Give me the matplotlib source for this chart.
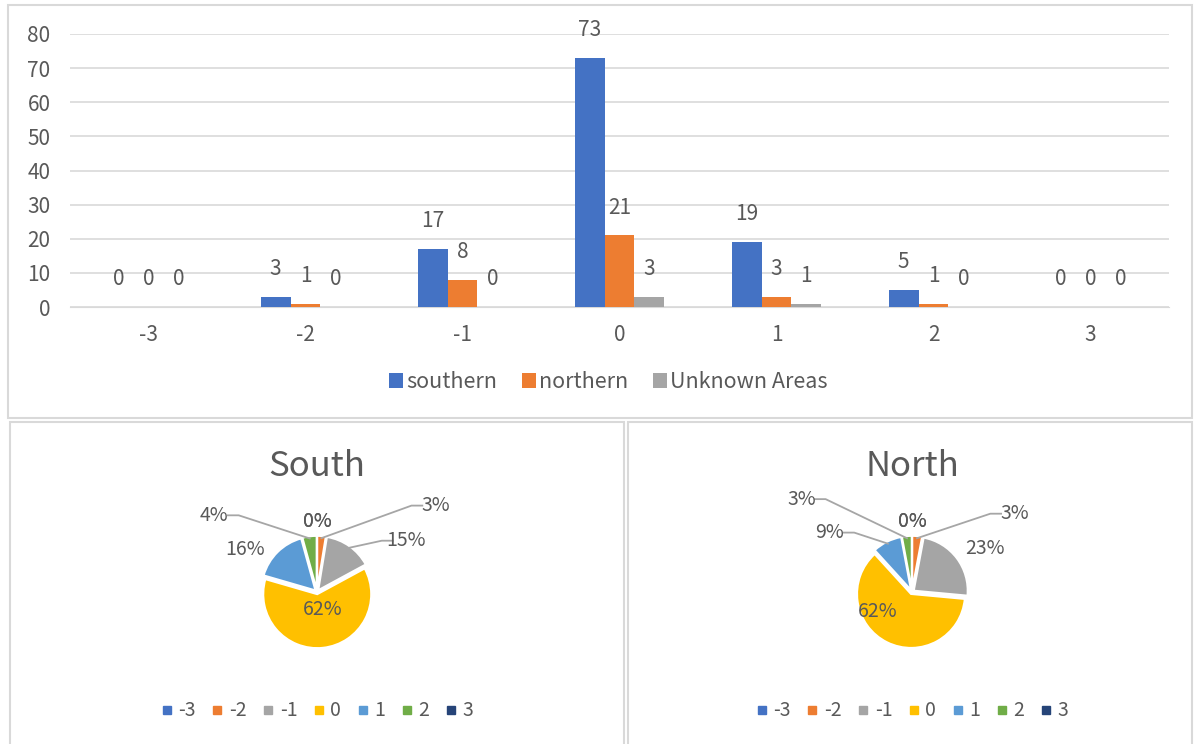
import numpy as np
import matplotlib.pyplot as plt
from matplotlib.patches import Rectangle
from matplotlib.lines import Line2D

plt.rcParams['font.family'] = ['Noto Sans CJK SC', 'DejaVu Sans']

# data
categories = ["-3", "-2", "-1", "0", "1", "2", "3"]
southern = [0, 3, 17, 73, 19, 5, 0]
northern = [0, 1, 8, 21, 3, 1, 0]
unknown = [0, 0, 0, 3, 1, 0, 0]
series_names = ["southern", "northern", "Unknown Areas"]
south_pct = ["0%", "3%", "15%", "62%", "16%", "4%", "0%"]
north_pct = ["0%", "3%", "23%", "62%", "9%", "3%", "0%"]

bar_colors = ["#4472C4", "#ED7D31", "#A5A5A5"]
pie_colors = ["#4472C4", "#ED7D31", "#A5A5A5", "#FFC000", "#5B9BD5", "#70AD47", "#264478"]
txt = "#595959"
W, H = 1194, 744

fig = plt.figure(figsize=(W / 100, H / 100), dpi=100)

def box(x0, y0, x1, y1):
    # pixel box (top-left origin) -> figure fraction
    return [x0 / W, 1 - y1 / H, (x1 - x0) / W, (y1 - y0) / H]

# panel borders
for x0, y0, x1, y1 in [(8, 5, 1192, 418), (10, 422, 624, 746), (628, 422, 1192, 746)]:
    b = box(x0, y0, x1, y1)
    fig.add_artist(Rectangle((b[0], b[1]), b[2], b[3], transform=fig.transFigure,
                             fill=False, edgecolor="#D9D9D9", linewidth=1.5))

# ---- bar chart ----
ax = fig.add_axes(box(70, 34, 1169, 307))
x = np.arange(len(categories))
bw = 0.19
for i, (vals, name) in enumerate(zip([southern, northern, unknown], series_names)):
    pos = x + (i - 1) * bw
    ax.bar(pos, vals, width=bw, color=bar_colors[i], label=name, zorder=3)
    for px, v in zip(pos, vals):
        ax.annotate(str(v), (px, v), xytext=(0, 20), textcoords="offset points",
                    ha="center", va="center", fontsize=15, color=txt)
ax.set_xlim(-0.5, len(categories) - 0.5)
ax.set_ylim(0, 80)
ax.set_yticks(range(0, 81, 10))
ax.set_xticks(x)
ax.set_xticklabels(categories)
ax.grid(axis="y", color="#D9D9D9", linewidth=1.2, zorder=0)
for s in ["top", "right", "left"]:
    ax.spines[s].set_visible(False)
ax.spines["bottom"].set_color("#D9D9D9")
ax.tick_params(axis="both", length=0, labelsize=15, labelcolor=txt)
ax.tick_params(axis="x", pad=12)
ax.tick_params(axis="y", pad=14)
ax.legend(loc="center", bbox_to_anchor=(0.49, -0.275), ncol=3, frameon=False,
          fontsize=15.5, labelcolor=txt, handlelength=0.65, handleheight=0.65,
          handletextpad=0.15, columnspacing=1.15)

# ---- pies ----
r_px = 54
# label placement (in radius units) per slice, and whether a leader line is drawn
south_lab = [(0, 1.3), (2.2, 1.6), (1.65, 0.95), (0.1, -0.33), (-1.33, 0.78), (-1.9, 1.42), (0, 1.3)]
south_lead = [False, True, True, False, False, True, False]
north_lab = [(0, 1.3), (1.9, 1.45), (1.35, 0.81), (-0.63, -0.37), (-1.52, 1.1), (-2.05, 1.72), (0, 1.3)]
north_lead = [False, True, False, False, True, True, False]

def draw_pie(cx, cy, title, vals, pcts, labpos, lead):
    half_w, half_h = 290, 150
    pa = fig.add_axes(box(cx - half_w, cy - half_h, cx + half_w, cy + half_h))
    wedges, _ = pa.pie(vals, colors=pie_colors, startangle=90, counterclock=False,
                       explode=[0.04] * len(vals), radius=1,
                       wedgeprops=dict(edgecolor="white", linewidth=1.5))
    pa.set_xlim(-half_w / r_px, half_w / r_px)
    pa.set_ylim(-half_h / r_px, half_h / r_px)
    pa.set_aspect("equal")
    pa.axis("off")
    for w, p, (lx, ly), ld in zip(wedges, pcts, labpos, lead):
        ang = np.deg2rad((w.theta1 + w.theta2) / 2)
        if ld:
            ex, ey = 1.0 * np.cos(ang), 1.0 * np.sin(ang)
            side = 1 if lx > 0 else -1
            kx = lx - side * 0.25
            pa.plot([ex, kx - side * 0.2, kx], [ey, ly, ly], color="#A6A6A6", lw=1.3,
                    clip_on=False)
        pa.text(lx, ly, p, ha="center", va="center", fontsize=14, color=txt)
    fig.text(cx / W, 1 - 467 / H, title, ha="center", va="center", fontsize=25, color=txt)
    handles = [Line2D([], [], marker="s", linestyle="", color=c, markersize=6) for c in pie_colors]
    fig.legend(handles, categories, loc="center", bbox_to_anchor=(cx / W, 1 - 711 / H),
               ncol=7, frameon=False, fontsize=14, labelcolor=txt, handlelength=0.6,
               handletextpad=0.3, columnspacing=0.8)

draw_pie(317, 592, "South", southern, south_pct, south_lab, south_lead)
draw_pie(912, 592, "North", northern, north_pct, north_lab, north_lead)

fig.savefig("out.png", dpi=100)
